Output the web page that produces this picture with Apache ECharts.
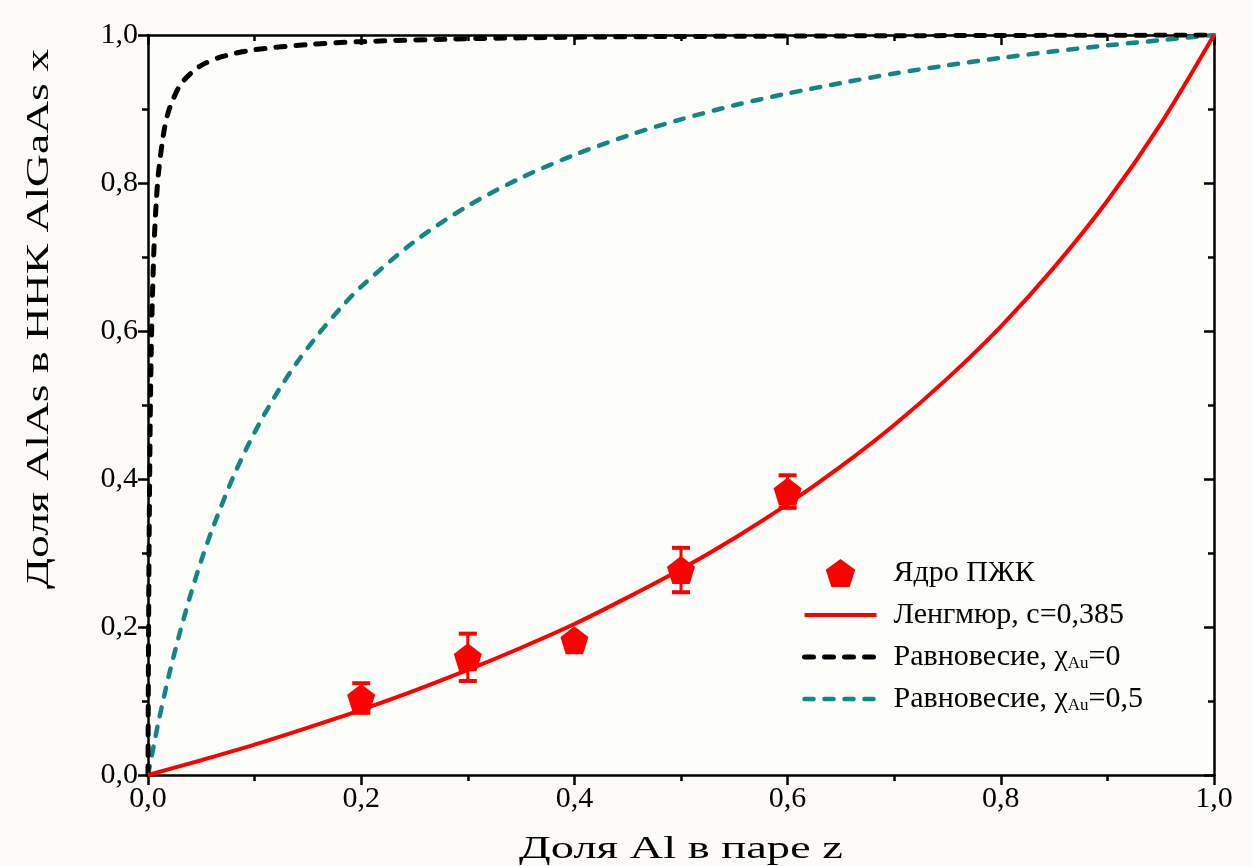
<!DOCTYPE html>
<html><head><meta charset="utf-8">
<script src="https://cdn.jsdelivr.net/npm/echarts@6/dist/echarts.min.js"></script>
<style>html,body{margin:0;padding:0;background:#fcfbf7}#c{width:1252px;height:866px}</style>
</head><body><div id="c"></div>
<script>
// Axis ticks
const tickValues = [0, 0.2, 0.4, 0.6, 0.8, 1.0];
const xTitle = 'Доля Al в паре z';
const yTitle = 'Доля AlAs в ННК AlGaAs x';

// Experimental points: Ядро ПЖК
const expZ = [0.2, 0.3, 0.4, 0.5, 0.6];
const expX = [0.104, 0.159, 0.182, 0.277, 0.383];
const expErr = [0.02, 0.032, 0.004, 0.03, 0.022];

// Ленгмюр, c=0,385
const langZ = [0, 0.05, 0.1, 0.15, 0.2, 0.25, 0.3, 0.35, 0.4, 0.45, 0.5, 0.55, 0.6, 0.65, 0.7, 0.75, 0.8, 0.85, 0.9, 0.95, 1.0];
const langX = [0, 0.020, 0.041, 0.064, 0.088, 0.114, 0.142, 0.172, 0.204, 0.240, 0.278, 0.320, 0.366, 0.417, 0.473, 0.536, 0.606, 0.686, 0.776, 0.880, 1.0];

// Равновесие, χAu=0
const eq0Z = [0, 0.0005, 0.001, 0.002, 0.003, 0.004, 0.006, 0.008, 0.01, 0.015, 0.02, 0.03, 0.04, 0.05, 0.07, 0.1, 0.15, 0.2, 0.3, 0.4, 0.5, 0.7, 1.0];
const eq0X = [0, 0.18, 0.306, 0.469, 0.570, 0.639, 0.727, 0.780, 0.816, 0.870, 0.900, 0.932, 0.948, 0.959, 0.971, 0.980, 0.987, 0.991, 0.995, 0.997, 0.998, 0.999, 1.0];

// Равновесие, χAu=0,5
const eq5Z = [0, 0.005, 0.01, 0.02, 0.03, 0.04, 0.05, 0.06, 0.08, 0.1, 0.12, 0.14, 0.16, 0.18, 0.2, 0.25, 0.3, 0.35, 0.4, 0.45, 0.5, 0.55, 0.6, 0.65, 0.7, 0.75, 0.8, 0.85, 0.9, 0.95, 1.0];
const eq5X = [0, 0.037, 0.073, 0.137, 0.193, 0.244, 0.290, 0.331, 0.403, 0.463, 0.514, 0.558, 0.596, 0.630, 0.660, 0.721, 0.769, 0.807, 0.838, 0.864, 0.886, 0.905, 0.921, 0.935, 0.948, 0.959, 0.969, 0.978, 0.986, 0.993, 1.0];

const names = ['Ядро ПЖК', 'Ленгмюр, c=0,385', 'Равновесие, χAu=0', 'Равновесие, χAu=0,5'];
const legendRich = {
  [names[0]]: 'Ядро ПЖК',
  [names[1]]: 'Ленгмюр, c=0,385',
  [names[2]]: 'Равновесие, χ{s|Au}=0',
  [names[3]]: 'Равновесие, χ{s|Au}=0,5'
};

const FONT = '"Liberation Serif", "Times New Roman", serif';
const fmt = v => v.toFixed(1).replace('.', ',');
const pentagon = 'path://M0,-1 L0.951,-0.309 L0.588,0.809 L-0.588,0.809 L-0.951,-0.309 Z';
const CLEAR = 'rgba(0,0,0,0)';
const TEAL = '#138585';
const RED = '#ff0000';

const redLine = { color: RED, width: 4 };
const blackDash = { color: '#000', width: 5, type: [9, 11], cap: 'round' };
const tealDash = { color: TEAL, width: 4.5, type: [9, 11], cap: 'round' };

const axisCommon = {
  type: 'value', min: 0, max: 1, interval: 0.2,
  axisLine: { show: true, onZero: false, lineStyle: { color: '#000', width: 2.5 } },
  splitLine: { show: false },
  minorTick: { show: true, splitNumber: 2, length: 6, lineStyle: { color: '#000', width: 2.5 } },
  axisTick: { show: true, length: 10, lineStyle: { color: '#000', width: 2.5 } }
};

const chart = echarts.init(document.getElementById('c'), null, { renderer: 'canvas' });
chart.setOption({
  backgroundColor: '#fcfbf7',
  animation: false,
  grid: { left: 148, right: 38, top: 35, bottom: 91, show: true, backgroundColor: '#fdfdfa', borderWidth: 0 },
  xAxis: [
    Object.assign({}, axisCommon, {
      position: 'bottom',
      axisLabel: { formatter: fmt, color: '#000', fontFamily: FONT, fontSize: 30, margin: 9 }
    }),
    Object.assign({}, axisCommon, {
      position: 'top',
      axisTick: Object.assign({}, axisCommon.axisTick, { inside: true }),
      minorTick: Object.assign({}, axisCommon.minorTick, { inside: true }),
      axisLabel: { show: false }
    })
  ],
  yAxis: [
    Object.assign({}, axisCommon, {
      position: 'left',
      axisLabel: { formatter: fmt, color: '#000', fontFamily: FONT, fontSize: 30, margin: 10 }
    }),
    Object.assign({}, axisCommon, {
      position: 'right',
      axisTick: Object.assign({}, axisCommon.axisTick, { inside: true }),
      minorTick: Object.assign({}, axisCommon.minorTick, { inside: true }),
      axisLabel: { show: false }
    })
  ],
  legend: {
    data: [
      { name: names[0] },
      { name: names[1], lineStyle: redLine },
      { name: names[2], lineStyle: blackDash },
      { name: names[3], lineStyle: tealDash }
    ],
    orient: 'vertical',
    left: 797, top: 553,
    itemWidth: 72, itemHeight: 28, itemGap: 12,
    formatter: n => legendRich[n],
    textStyle: {
      fontFamily: FONT, fontSize: 30, color: '#000', lineHeight: 30, padding: [0, 0, 0, 12],
      rich: { s: { fontFamily: FONT, fontSize: 17, color: '#000', verticalAlign: 'bottom', lineHeight: 17, padding: [13, 0, 0, 0] } }
    }
  },
  graphic: [
    { type: 'text', x: 681, y: 850, scaleX: 1.5, style: { text: xTitle, font: '31px ' + FONT, fill: '#000', align: 'center', verticalAlign: 'middle' } },
    { type: 'text', x: 40, y: 319, rotation: Math.PI / 2, scaleX: 1.47, style: { text: yTitle, font: '31px ' + FONT, fill: '#000', align: 'center', verticalAlign: 'middle' } }
  ],
  series: [
    {
      name: names[3], type: 'line', data: eq5Z.map((z, i) => [z, eq5X[i]]), showSymbol: false, symbol: 'none', smooth: 0.3,
      lineStyle: tealDash, itemStyle: { color: CLEAR }, z: 2
    },
    {
      name: names[2], type: 'line', data: eq0Z.map((z, i) => [z, eq0X[i]]), showSymbol: false, symbol: 'none', smooth: 0.3,
      lineStyle: blackDash, itemStyle: { color: CLEAR }, z: 2
    },
    {
      name: names[1], type: 'line', data: langZ.map((z, i) => [z, langX[i]]), showSymbol: false, symbol: 'none', smooth: 0.3,
      lineStyle: redLine, itemStyle: { color: CLEAR }, z: 3
    },
    {
      name: 'err', type: 'custom', z: 4,
      data: expZ.map((z, i) => [z, expX[i], expErr[i]]),
      renderItem: (params, api) => {
        const x = api.value(0), y = api.value(1), e = api.value(2);
        const t = api.coord([x, y + e]), b = api.coord([x, y - e]);
        const hw = 9, st = { stroke: RED, lineWidth: 3 };
        return { type: 'group', children: [
          { type: 'line', shape: { x1: t[0], y1: t[1], x2: b[0], y2: b[1] }, style: st },
          { type: 'line', shape: { x1: t[0] - hw, y1: t[1], x2: t[0] + hw, y2: t[1] }, style: { stroke: RED, lineWidth: 4 } },
          { type: 'line', shape: { x1: b[0] - hw, y1: b[1], x2: b[0] + hw, y2: b[1] }, style: { stroke: RED, lineWidth: 4 } }
        ] };
      }
    },
    {
      name: names[0], type: 'scatter', data: expZ.map((z, i) => [z, expX[i]]), symbol: pentagon, symbolSize: 28,
      itemStyle: { color: RED, opacity: 1 }, z: 5
    }
  ]
});
</script></body></html>
